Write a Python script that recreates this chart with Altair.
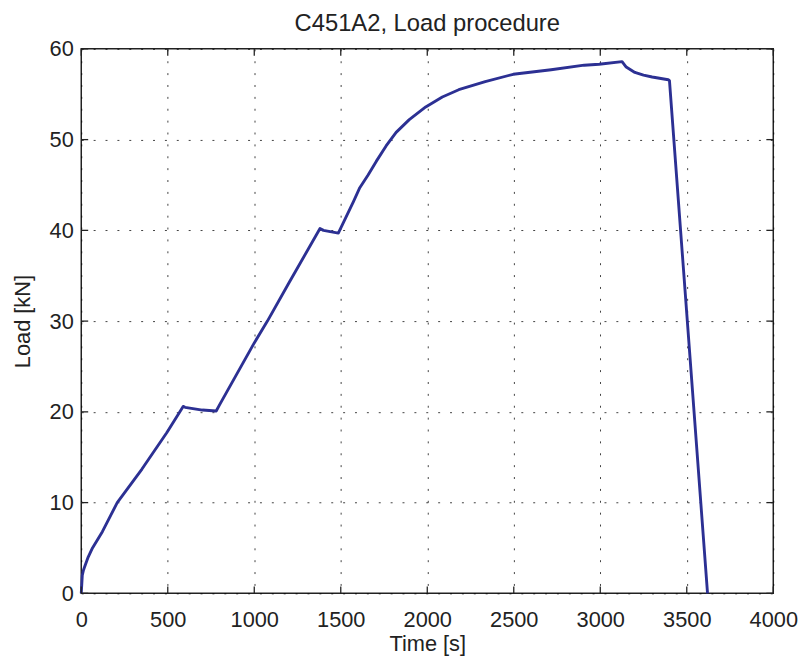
import altair as alt
import pandas as pd

# Data
time_s = [0, 6, 12, 17, 40, 65, 122, 208, 351, 494, 589, 600, 700, 780,
          800, 1000, 1076, 1200, 1380, 1400, 1486, 1574, 1610, 1658, 1705,
          1762, 1820, 1896, 1991, 2087, 2182, 2335, 2497, 2716, 2907, 2993,
          3126, 3150, 3200, 3250, 3300, 3393, 3400, 3620]
load_kn = [0, 2.0, 2.5, 2.8, 4.0, 5.0, 6.8, 10.0, 13.7, 17.7, 20.6, 20.5, 20.2, 20.1,
           20.8, 27.6, 30.0, 34.2, 40.2, 40.0, 39.7, 43.2, 44.7, 46.1, 47.6,
           49.3, 50.8, 52.2, 53.6, 54.7, 55.5, 56.4, 57.2, 57.7, 58.2, 58.3,
           58.6, 58.0, 57.4, 57.1, 56.9, 56.6, 56.5, 0]

x_ticks = [0, 500, 1000, 1500, 2000, 2500, 3000, 3500, 4000]
y_ticks = [0, 10, 20, 30, 40, 50, 60]

W, H = 699, 550
FONT = "Liberation Sans"

df = pd.DataFrame({"t": time_s, "load": load_kn})
xt = pd.DataFrame({"t": x_ticks})
yt = pd.DataFrame({"load": y_ticks})

xscale = alt.Scale(domain=[0, 4000], nice=False, zero=False)
yscale = alt.Scale(domain=[0, 60], nice=False, zero=False)

grid_kw = dict(grid=True, gridColor="#000000", gridDash=[2, 10], gridWidth=1,
               gridOpacity=0.75, domain=False, ticks=True, tickSize=0,
               labelFont=FONT, labelFontSize=22, labelColor="#222222",
               labelFlush=False,
               titleFont=FONT, titleFontSize=22, titleColor="#222222",
               titleFontWeight="normal", format="d")

line = alt.Chart(df).mark_line(color="#2c3093", strokeWidth=2.9,
                               strokeJoin="round").encode(
    x=alt.X("t:Q", scale=xscale,
            axis=alt.Axis(values=x_ticks, title="Time [s]", labelPadding=16,
                          titleX=W / 2, titleY=58, titleBaseline="alphabetic",
                          titleAlign="center", **grid_kw)),
    y=alt.Y("load:Q", scale=yscale,
            axis=alt.Axis(values=y_ticks, title="Load [kN]", labelPadding=8,
                          titleX=-59, titleY=H / 2, titleAngle=270,
                          titleAlign="center", titleBaseline="middle", **grid_kw)),
)

tick_style = dict(color="#222222", strokeWidth=1.3)
bottom_ticks = alt.Chart(xt).mark_rule(**tick_style).encode(
    x=alt.X("t:Q", scale=xscale), y=alt.value(H), y2=alt.value(H - 7))
top_ticks = alt.Chart(xt).mark_rule(**tick_style).encode(
    x=alt.X("t:Q", scale=xscale), y=alt.value(0), y2=alt.value(7))
left_ticks = alt.Chart(yt).mark_rule(**tick_style).encode(
    y=alt.Y("load:Q", scale=yscale), x=alt.value(0), x2=alt.value(7))
right_ticks = alt.Chart(yt).mark_rule(**tick_style).encode(
    y=alt.Y("load:Q", scale=yscale), x=alt.value(W), x2=alt.value(W - 7))

chart = alt.layer(line, bottom_ticks, top_ticks, left_ticks, right_ticks).properties(
    width=W, height=H,
    title=alt.Title("C451A2, Load procedure", font=FONT, fontSize=24,
                    fontWeight="normal", color="#222222", anchor="middle",
                    baseline="alphabetic", offset=15, dy=32),
    autosize=alt.AutoSizeParams(type="none"),
    padding={"left": 74, "top": 38, "right": 27, "bottom": 60},
    background="white",
).configure_view(stroke="#222222", strokeWidth=1.5)

chart.save("out.html", embed_options={"renderer": "svg", "actions": False})
